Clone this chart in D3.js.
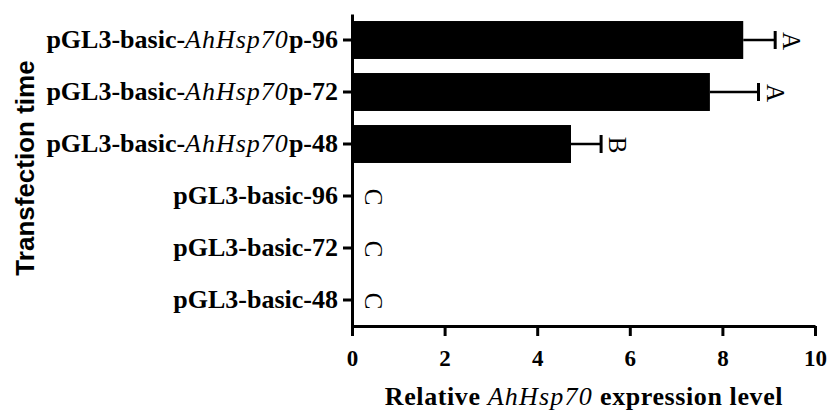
<!DOCTYPE html>
<html>
<head>
<meta charset="utf-8">
<script src="https://cdn.jsdelivr.net/npm/d3@7"></script>
<style>
  body { margin: 0; background: #fff; }
  svg { display: block; }
</style>
</head>
<body>
<svg id="chart" width="836" height="412"></svg>
<script>
// values
const categories = [
  "pGL3-basic-AhHsp70p-96",
  "pGL3-basic-AhHsp70p-72",
  "pGL3-basic-AhHsp70p-48",
  "pGL3-basic-96",
  "pGL3-basic-72",
  "pGL3-basic-48"
];
const values = [8.45, 7.73, 4.73, 0, 0, 0];
const errors = [0.69, 1.05, 0.65, 0, 0, 0];
const letters = ["A", "A", "B", "C", "C", "C"];
const xTicks = [0, 2, 4, 6, 8, 10];
const italicPart = "AhHsp70";

const data = categories.map((c, i) => ({ cat: c, value: values[i], err: errors[i], letter: letters[i] }));

const svg = d3.select("#chart");
const margin = { top: 13, left: 352, right: 21, bottom: 86 };
const width = +svg.attr("width"), height = +svg.attr("height");

const x = d3.scaleLinear().domain([0, 10]).range([margin.left, width - margin.right]);
const y = d3.scaleBand().domain(categories).range([margin.top + 1, height - margin.bottom])
  .paddingInner(0.27).paddingOuter(0.135);

const serif = "'Liberation Serif', 'Times New Roman', serif";

// bars
svg.append("g").selectAll("rect")
  .data(data)
  .join("rect")
  .attr("x", x(0))
  .attr("y", d => y(d.cat))
  .attr("width", d => x(d.value) - x(0))
  .attr("height", y.bandwidth())
  .attr("fill", "#000");

// error bars
const eb = svg.append("g").attr("stroke", "#000");
eb.selectAll("line.stem")
  .data(data.filter(d => d.err > 0))
  .join("line")
  .attr("class", "stem")
  .attr("x1", d => x(d.value)).attr("x2", d => x(d.value + d.err))
  .attr("y1", d => y(d.cat) + y.bandwidth() / 2).attr("y2", d => y(d.cat) + y.bandwidth() / 2)
  .attr("stroke-width", 2.5);
eb.selectAll("line.cap")
  .data(data.filter(d => d.err > 0))
  .join("line")
  .attr("class", "cap")
  .attr("x1", d => x(d.value + d.err)).attr("x2", d => x(d.value + d.err))
  .attr("y1", d => y(d.cat) + y.bandwidth() / 2 - 9).attr("y2", d => y(d.cat) + y.bandwidth() / 2 + 9)
  .attr("stroke-width", 3);

// significance letters, rotated
svg.append("g").selectAll("text")
  .data(data)
  .join("text")
  .attr("transform", d => {
    const lx = Math.max(x(d.value + d.err) + 8, x(0) + 13);
    return `translate(${lx},${y(d.cat) + y.bandwidth() / 2 + 1}) rotate(90)`;
  })
  .attr("text-anchor", "middle")
  .attr("font-family", serif)
  .attr("font-size", 25)
  .text(d => d.letter);

// x axis
const gx = svg.append("g")
  .attr("transform", `translate(0,${height - margin.bottom})`)
  .call(d3.axisBottom(x).tickValues(xTicks).tickSize(10).tickSizeOuter(0).tickPadding(14));
gx.select(".domain").attr("stroke-width", 3);
gx.selectAll(".tick line").attr("stroke-width", 3);
gx.selectAll(".tick text")
  .attr("font-family", serif).attr("font-weight", "bold").attr("font-size", 23).attr("fill", "#000");

// y axis
const gy = svg.append("g")
  .attr("transform", `translate(${margin.left},0)`)
  .call(d3.axisLeft(y).tickSize(9).tickSizeOuter(0).tickPadding(5));
gy.select(".domain").attr("stroke-width", 3);
gy.selectAll(".tick line").attr("stroke-width", 3);
gy.selectAll(".tick text")
  .attr("font-family", serif).attr("font-weight", "bold").attr("font-size", 26).attr("fill", "#000")
  .each(function(d) {
    const t = d3.select(this).text("");
    const parts = d.split(italicPart);
    t.append("tspan").text(parts[0]);
    if (parts.length > 1) {
      t.append("tspan").attr("font-style", "italic").attr("font-weight", "normal")
        .attr("letter-spacing", 1).text(italicPart);
      t.append("tspan").text(parts[1]);
    }
  });

// axis titles
const xt = svg.append("text")
  .attr("x", 584).attr("y", 405)
  .attr("text-anchor", "middle")
  .attr("font-family", serif).attr("font-weight", "bold").attr("font-size", 26)
  .attr("letter-spacing", 0.6);
xt.append("tspan").text("Relative ");
xt.append("tspan").attr("font-style", "italic").attr("font-weight", "normal").attr("letter-spacing", 1.2).text(italicPart);
xt.append("tspan").text(" expression level");

svg.append("text")
  .attr("transform", "translate(34,168) rotate(-90)")
  .attr("text-anchor", "middle")
  .attr("font-family", "'Liberation Sans', Arial, sans-serif")
  .attr("font-weight", "bold").attr("font-size", 26)
  .text("Transfection time");
</script>
</body>
</html>
